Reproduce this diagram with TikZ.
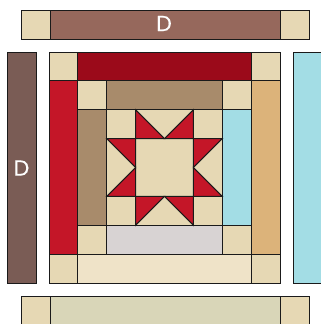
\documentclass[tikz,border=0pt]{standalone}
\usepackage{fontspec}
\newfontfamily\lblfont[FakeBold=0.5]{Poppins}
\definecolor{tanq}{HTML}{E6D8B4}
\definecolor{dred}{HTML}{9B0A1A}
\definecolor{qred}{HTML}{C41628}
\definecolor{qbrown}{HTML}{A88B6B}
\definecolor{qorange}{HTML}{DCB37A}
\definecolor{qblue}{HTML}{A3DDE5}
\definecolor{qgrey}{HTML}{D8D3D3}
\definecolor{qcream}{HTML}{EFE3C8}
\definecolor{topbrown}{HTML}{96685C}
\definecolor{leftbrown}{HTML}{7A5C55}
\definecolor{sage}{HTML}{D9D6B8}
\definecolor{edge}{HTML}{1A1A1A}
\tikzset{
  patch/.style={draw=edge, line width=0.9pt, line join=miter},
  lbl/.style={text=white, font=\lblfont\fontsize{22}{22}\selectfont, inner sep=0pt}
}
\begin{document}
\begin{tikzpicture}[x=1pt, y=-1pt]
\clip (0,0) rectangle (321,324);
\fill[white] (0,0) rectangle (321,324);
% top strip
\draw[patch, fill=tanq] (21,10) rectangle (50,39);
\draw[patch, fill=topbrown] (50,10) rectangle (280,39);
\draw[patch, fill=tanq] (280,10) rectangle (309,39);
\node[lbl] (dtop) at (164,23.5) {D};
% left strip
\draw[patch, fill=leftbrown] (7,52) rectangle (36,283);
\node[lbl] (dleft) at (21.5,168) {D};
% right strip
\draw[patch, fill=qblue] (293,52) rectangle (330,283);
% bottom strip
\draw[patch, fill=tanq] (21,296) rectangle (50,330);
\draw[patch, fill=sage] (50,296) rectangle (280,330);
\draw[patch, fill=tanq] (280,296) rectangle (309,330);
% block
\begin{scope}[shift={(49,52)}, x=28.875pt, y=-28.875pt]
  % outer ring
  \draw[patch, fill=tanq] (0,0) rectangle (1,1);
  \draw[patch, fill=dred] (1,0) rectangle (7,1);
  \draw[patch, fill=tanq] (7,0) rectangle (8,1);
  \draw[patch, fill=qred] (0,1) rectangle (1,7);
  \draw[patch, fill=qorange] (7,1) rectangle (8,7);
  \draw[patch, fill=tanq] (0,7) rectangle (1,8);
  \draw[patch, fill=qcream] (1,7) rectangle (7,8);
  \draw[patch, fill=tanq] (7,7) rectangle (8,8);
  % inner ring
  \draw[patch, fill=tanq] (1,1) rectangle (2,2);
  \draw[patch, fill=qbrown] (2,1) rectangle (6,2);
  \draw[patch, fill=tanq] (6,1) rectangle (7,2);
  \draw[patch, fill=qbrown] (1,2) rectangle (2,6);
  \draw[patch, fill=qblue] (6,2) rectangle (7,6);
  \draw[patch, fill=tanq] (1,6) rectangle (2,7);
  \draw[patch, fill=qgrey] (2,6) rectangle (6,7);
  \draw[patch, fill=tanq] (6,6) rectangle (7,7);
  % star corners and centre
  \draw[patch, fill=tanq] (2,2) rectangle (3,3);
  \draw[patch, fill=tanq] (5,2) rectangle (6,3);
  \draw[patch, fill=tanq] (2,5) rectangle (3,6);
  \draw[patch, fill=tanq] (5,5) rectangle (6,6);
  \draw[patch, fill=tanq] (3,3) rectangle (5,5);
  % geese
  \draw[patch, fill=tanq] (3,2) rectangle (5,3);
  \draw[patch, fill=qred] (3,2) -- (3,3) -- (4,3) -- cycle;
  \draw[patch, fill=qred] (5,2) -- (5,3) -- (4,3) -- cycle;
  \draw[patch, fill=tanq] (3,5) rectangle (5,6);
  \draw[patch, fill=qred] (3,5) -- (3,6) -- (4,5) -- cycle;
  \draw[patch, fill=qred] (5,5) -- (5,6) -- (4,5) -- cycle;
  \draw[patch, fill=tanq] (2,3) rectangle (3,5);
  \draw[patch, fill=qred] (2,3) -- (3,3) -- (3,4) -- cycle;
  \draw[patch, fill=qred] (2,5) -- (3,5) -- (3,4) -- cycle;
  \draw[patch, fill=tanq] (5,3) rectangle (6,5);
  \draw[patch, fill=qred] (5,3) -- (6,3) -- (5,4) -- cycle;
  \draw[patch, fill=qred] (5,5) -- (6,5) -- (5,4) -- cycle;
\end{scope}
\end{tikzpicture}
\end{document}
